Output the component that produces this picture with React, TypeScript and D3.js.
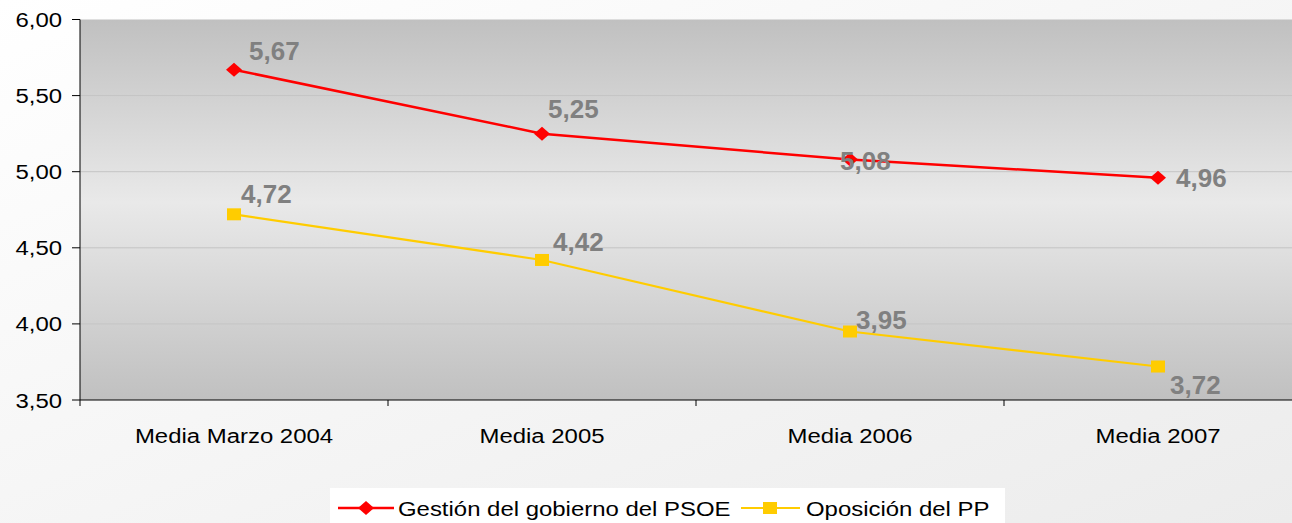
import React from "react";
import * as d3 from "d3";

const categories = ["Media Marzo 2004", "Media 2005", "Media 2006", "Media 2007"];
const psoeValues = [5.67, 5.25, 5.08, 4.96];
const ppValues = [4.72, 4.42, 3.95, 3.72];
const yTicks = [3.5, 4.0, 4.5, 5.0, 5.5, 6.0];
const seriesNames = ["Gestión del gobierno del PSOE", "Oposición del PP"];
// label offsets (dx, dy) relative to marker
const psoeLabelOffsets = [[15, -10], [6, -16], [-10, 10], [18, 9]];
const ppLabelOffsets = [[7, -11], [11, -9], [6, -3], [12, 27]];

const W = 1292;
const H = 523;
const FONT = "'Liberation Sans', Arial, sans-serif";
const STRETCH = 1.14;

function fmt(v: number) {
  return v.toFixed(2).replace(".", ",");
}

function SText(props: { x: number; y: number; anchor?: string; size: number; fill?: string; weight?: string; children: any; stretch?: number }) {
  const s = props.stretch ?? STRETCH;
  return (
    <text
      transform={`translate(${props.x},${props.y}) scale(${s},1)`}
      textAnchor={props.anchor ?? "start"}
      fontSize={props.size}
      fontFamily={FONT}
      fill={props.fill ?? "#000"}
      fontWeight={props.weight ?? "normal"}
    >
      {props.children}
    </text>
  );
}

export default function App() {
  const left = 80;
  const top = 19.5;
  const bottom = 400;
  const x = d3.scaleBand<string>().domain(categories).range([left, 1312]);
  const y = d3.scaleLinear().domain([3.5, 6]).range([bottom, top]);
  const cx = (c: string) => (x(c) as number) + x.bandwidth() / 2;

  const line = d3
    .line<number>()
    .x((_, i) => cx(categories[i]))
    .y((d) => y(d));

  const diamond = (px: number, py: number) =>
    `M${px - 8},${py} L${px},${py - 7} L${px + 8},${py} L${px},${py + 7} Z`;

  return (
    <svg width={W} height={H} style={{ position: "absolute", left: 0, top: 0 }}>
      <defs>
        <linearGradient id="pageBg" x1="0" y1="0" x2="1" y2="1">
          <stop offset="0" stopColor="#ffffff" />
          <stop offset="1" stopColor="#ececec" />
        </linearGradient>
        <linearGradient id="plotBg" x1="0" y1="0" x2="0" y2="1">
          <stop offset="0" stopColor="#c0c0c0" />
          <stop offset="0.48" stopColor="#e9e9e9" />
          <stop offset="1" stopColor="#c0c0c0" />
        </linearGradient>
      </defs>
      <rect x={0} y={0} width={W} height={H} fill="url(#pageBg)" />
      <rect x={left} y={top} width={1312 - left} height={bottom - top} fill="url(#plotBg)" />
      {yTicks.slice(1, -1).map((t) => (
        <line key={t} x1={left} x2={W} y1={y(t)} y2={y(t)} stroke="#c4c4c4" strokeWidth={1} />
      ))}
      {/* axes */}
      <line x1={left} x2={left} y1={top} y2={bottom} stroke="#000" strokeWidth={1} />
      <line x1={left} x2={W} y1={bottom} y2={bottom} stroke="#000" strokeWidth={1.2} />
      {yTicks.map((t) => (
        <g key={t}>
          <line x1={72} x2={left} y1={y(t)} y2={y(t)} stroke="#000" />
          <SText x={62} y={y(t) + 7.5} anchor="end" size={21}>
            {fmt(t)}
          </SText>
        </g>
      ))}
      {categories.map((c) => (
        <g key={c}>
          <line x1={x(c) as number} x2={x(c) as number} y1={bottom} y2={bottom + 6} stroke="#000" />
          <SText x={cx(c)} y={443} anchor="middle" size={21}>
            {c}
          </SText>
        </g>
      ))}
      {/* lines */}
      <path d={line(psoeValues) as string} fill="none" stroke="#ff0000" strokeWidth={2.5} />
      <path d={line(ppValues) as string} fill="none" stroke="#ffcc00" strokeWidth={2.2} />
      {psoeValues.map((v, i) => (
        <path key={i} d={diamond(cx(categories[i]), y(v))} fill="#ff0000" />
      ))}
      {ppValues.map((v, i) => (
        <rect key={i} x={cx(categories[i]) - 7} y={y(v) - 6} width={14} height={12} fill="#ffcc00" />
      ))}
      {psoeValues.map((v, i) => (
        <SText key={i} x={cx(categories[i]) + psoeLabelOffsets[i][0]} y={y(v) + psoeLabelOffsets[i][1]} size={26} weight="bold" fill="#808080" stretch={1}>
          {fmt(v)}
        </SText>
      ))}
      {ppValues.map((v, i) => (
        <SText key={i} x={cx(categories[i]) + ppLabelOffsets[i][0]} y={y(v) + ppLabelOffsets[i][1]} size={26} weight="bold" fill="#808080" stretch={1}>
          {fmt(v)}
        </SText>
      ))}
      {/* legend */}
      <rect x={330} y={488} width={675} height={40} fill="#ffffff" />
      <line x1={338} x2={394} y1={508} y2={508} stroke="#ff0000" strokeWidth={2.5} />
      <path d={diamond(366, 508)} fill="#ff0000" />
      <SText x={398} y={516} size={21}>
        {seriesNames[0]}
      </SText>
      <line x1={741} x2={800} y1={508} y2={508} stroke="#ffcc00" strokeWidth={2.2} />
      <rect x={763} y={502} width={14} height={12} fill="#ffcc00" />
      <SText x={806} y={516} size={21}>
        {seriesNames[1]}
      </SText>
    </svg>
  );
}
